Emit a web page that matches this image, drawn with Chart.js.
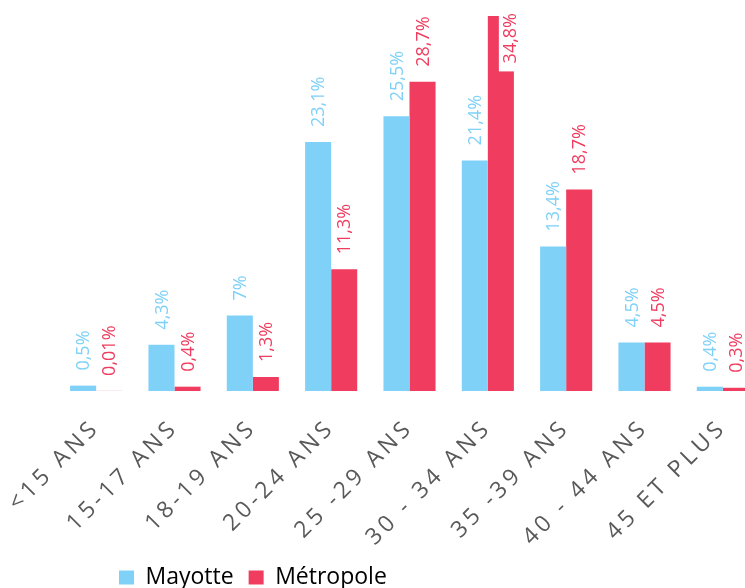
<!DOCTYPE html>
<html>
<head>
<meta charset="utf-8">
<script src="https://cdn.jsdelivr.net/npm/chart.js"></script>
<style>
  html, body { margin: 0; padding: 0; background: #fff; overflow: hidden; }
  #wrap { position: relative; width: 765px; height: 588px; }
</style>
</head>
<body>
<div id="wrap"><canvas id="ageChart"></canvas></div>
<script>
// ====== DONNÉES ======
const categories = ["<15 ANS", "15-17 ANS", "18-19 ANS", "20-24 ANS", "25 -29 ANS", "30 - 34 ANS", "35 -39 ANS", "40 - 44 ANS", "45 ET PLUS"];
const mayotte = [0.5, 4.3, 7, 23.1, 25.5, 21.4, 13.4, 4.5, 0.4];
const metropole = [0.01, 0.4, 1.3, 11.3, 28.7, 34.8, 18.7, 4.5, 0.3];
const seriesNames = ["Mayotte", "Métropole"];

const BLUE = "#7fd1f8";
const RED = "#f03c5f";

// format français : 23.1 -> "23,1%"
function pct(v) {
  return String(v).replace(".", ",") + "%";
}

// ====== ÉTIQUETTES VERTICALES AU-DESSUS DES BARRES ======
const barLabels = {
  id: "barLabels",
  afterLayout(chart) {
    // place la légende comme dans l'original (décalée à gauche)
    const lg = chart.legend;
    const w = lg.right - lg.left, h = lg.bottom - lg.top;
    lg.left = 104; lg.right = lg.left + w;
    lg.top = 551; lg.bottom = lg.top + h;
    // zone de découpe des libellés X jusqu'en bas du canvas
    chart.scales.x.bottom = chart.height;
  },
  afterDatasetsDraw(chart) {
    const ctx = chart.ctx;
    const colors = [BLUE, RED];
    chart.data.datasets.forEach((ds, di) => {
      const meta = chart.getDatasetMeta(di);
      meta.data.forEach((bar, i) => {
        const txt = pct(ds.data[i]);
        ctx.save();
        ctx.font = '18px "Open Sans"';
        const w = ctx.measureText(txt).width;
        let x = bar.x;
        let y0 = bar.y - 15;
        if (y0 - w < 4) {
          // pas de place au-dessus : on met l'étiquette en haut sur fond blanc
          x += 9;
          y0 = 13 + w;
          ctx.fillStyle = "#fff";
          ctx.fillRect(x - 11, 0, 20, y0 + 8);
        }
        ctx.translate(x, y0);
        ctx.rotate(-Math.PI / 2);
        ctx.textAlign = "left";
        ctx.textBaseline = "middle";
        ctx.fillStyle = colors[di];
        ctx.fillText(txt, 0, 1);
        ctx.restore();
      });
    });
    // espacement des lettres pour l'axe X (dessiné après, ticks.z = 1)
    ctx.letterSpacing = "4px";
  },
  afterDraw(chart) {
    chart.ctx.letterSpacing = "0px";
  }
};

// ====== GRAPHIQUE ======
function renderChart() {
  const ctx = document.getElementById("ageChart").getContext("2d");
  new Chart(ctx, {
    type: "bar",
    data: {
      labels: categories,
      datasets: [
        {
          label: seriesNames[0],
          data: mayotte,
          backgroundColor: BLUE,
          borderWidth: 0,
          categoryPercentage: 0.665,
          barPercentage: 1.0
        },
        {
          label: seriesNames[1],
          data: metropole,
          backgroundColor: RED,
          borderWidth: 0,
          categoryPercentage: 0.665,
          barPercentage: 1.0
        }
      ]
    },
    options: {
      responsive: true,
      maintainAspectRatio: false,
      animation: false,
      layout: { padding: { top: 16, left: 57, right: 3, bottom: 0 } },
      plugins: {
        tooltip: { enabled: false },
        legend: {
          position: "bottom",
          align: "start",
          labels: {
            color: "#000",
            font: { family: "Open Sans", size: 23 },
            boxWidth: 15,
            boxHeight: 14,
            padding: 15
          }
        }
      },
      scales: {
        x: {
          grid: { display: false, drawTicks: false },
          border: { display: false },
          ticks: {
            z: 1,
            color: "#595959",
            font: { family: "Open Sans", size: 23 },
            minRotation: 45,
            maxRotation: 45,
            autoSkip: false,
            padding: 23
          },
          afterFit(scale) {
            scale.height = scale.chart.height - 391 - scale.chart.legend.height;
            scale.paddingLeft = 0;
            scale.paddingRight = 0;
          }
        },
        y: {
          display: false,
          min: 0,
          max: 34.8
        }
      }
    },
    plugins: [barLabels]
  });
}

document.addEventListener("DOMContentLoaded", renderChart);
</script>
</body>
</html>
